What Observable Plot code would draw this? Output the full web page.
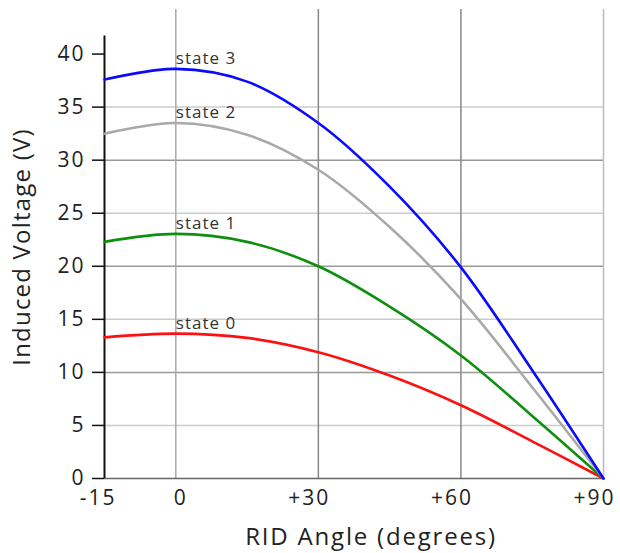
<!DOCTYPE html>
<html>
<head>
<meta charset="utf-8">
<script src="https://cdn.jsdelivr.net/npm/d3@7"></script>
<script src="https://cdn.jsdelivr.net/npm/@observablehq/plot@0.6"></script>
<style>
  html, body { margin: 0; padding: 0; background: #fff; }
  svg { font-family: "Open Sans", sans-serif; }
</style>
</head>
<body>
<div id="chart"></div>
<script>
const angles = [-15, 0, 15, 30, 45, 60, 75, 90];
const state3 = [37.6, 38.6, 37.4, 33.5, 27.5, 19.9, 10.2, 0];
const state2 = [32.5, 33.5, 32.4, 29.1, 23.7, 16.9, 8.6, 0];
const state1 = [22.3, 23.05, 22.3, 20.0, 16.2, 11.6, 5.9, 0];
const state0 = [13.3, 13.65, 13.25, 11.9, 9.7, 6.9, 3.5, 0];
const seriesNames = ["state 0", "state 1", "state 2", "state 3"];
const seriesColors = ["#ff1010", "#0e900e", "#a9a9a9", "#0a0aff"];
const xTicks = [-15, 0, 30, 60, 90];
const xTickLabels = ["-15", "0", "+30", "+60", "+90"];
const yTicks = [0, 5, 10, 15, 20, 25, 30, 35, 40];
const yGridMajor = [10, 20, 30];
const yGridMinor = [5, 15, 25, 35];
const xGrid = [0, 30, 60, 90];
const xGridColors = ["#aaaaaa", "#888888", "#888888", "#bbbbbb"];
const yAxisTop = 41.7;
const yDomainTop = 44.2;

const allSeries = [state0, state1, state2, state3];
const rows = [];
allSeries.forEach((vals, i) => vals.forEach((v, j) => rows.push({angle: angles[j], v, state: seriesNames[i]})));
const labelRows = allSeries.map((vals, i) => ({angle: 0, v: vals[1], state: seriesNames[i]}));

const chart = Plot.plot({
  width: 620,
  height: 553,
  marginLeft: 104,
  marginRight: 17,
  marginTop: 9,
  marginBottom: 75,
  x: {domain: [-15, 90], axis: null},
  y: {domain: [0, yDomainTop]},
  color: {domain: seriesNames, range: seriesColors},
  style: {fontFamily: "'Open Sans', sans-serif", background: "#fff"},
  marks: [
    Plot.ruleY(yGridMinor, {x1: -15, x2: 90, stroke: "#cccccc", strokeWidth: 1.5}),
    Plot.ruleY(yGridMajor, {x1: -15, x2: 90, stroke: "#999999", strokeWidth: 1.5}),
    Plot.ruleX(xGrid.map((x, i) => ({x, c: xGridColors[i]})), {x: "x", y1: 0, y2: yDomainTop, stroke: "c", strokeWidth: 1.5}),
    Plot.ruleY([0], {x1: -15, x2: 90, stroke: "#666666", strokeWidth: 1.5}),
    Plot.ruleX([-15], {y1: 0, y2: yAxisTop, stroke: "#111", strokeWidth: 2}),
    Plot.axisY(yTicks, {tickSize: 12, tickPadding: 7, fontSize: 21, fill: "#222", stroke: "#111", strokeWidth: 1.5, label: null}),
    Plot.text(xTicks, {x: (d) => d, frameAnchor: "bottom", text: (d) => xTickLabels[xTicks.indexOf(d)],
      textAnchor: "end", lineAnchor: "top", dx: 12, dy: 12, fontSize: 21, fill: "#222"}),
    Plot.line(rows, {x: "angle", y: "v", z: "state", stroke: "state", strokeWidth: 2.6, curve: "catmull-rom"}),
    Plot.text(labelRows, {x: "angle", y: "v", text: "state", textAnchor: "start", lineAnchor: "bottom", dy: -5, fontSize: 17, fill: "#333"}),
    Plot.text(["Induced Voltage (V)"], {frameAnchor: "left", rotate: -90, dx: -82, dy: 3, fontSize: 24, fill: "#222", textAnchor: "middle", lineAnchor: "middle"}),
    Plot.text(["RID Angle (degrees)"], {frameAnchor: "bottom", dx: 17, dy: 59, fontSize: 24, fill: "#222", textAnchor: "middle", lineAnchor: "middle"})
  ]
});
// widen letter spacing to match the reference's broad lettering
d3.select(chart).selectAll("text").each(function() {
  const fs = parseFloat(this.getAttribute("font-size") || this.parentNode.getAttribute("font-size") || 0);
  const rotated = (this.getAttribute("transform") || "").includes("rotate") ||
                  (this.parentNode.getAttribute("transform") || "").includes("rotate");
  let ls = "1px";
  if (fs >= 24) ls = rotated ? "1.2px" : "1.8px";
  else if (fs >= 21) ls = "2px";
  d3.select(this).style("letter-spacing", ls);
});
document.getElementById("chart").appendChild(chart);
</script>
</body>
</html>
